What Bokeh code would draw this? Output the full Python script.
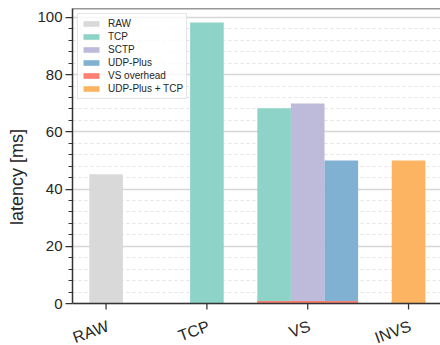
from bokeh.plotting import figure
from bokeh.models import Range1d, FixedTicker, Span, ColumnDataSource
from bokeh.core.properties import value
from bokeh.embed import file_html
from bokeh.resources import INLINE

# ---- data ----
categories = ["RAW", "TCP", "VS", "INVS"]
series_names = ["RAW", "TCP", "SCTP", "UDP-Plus", "VS overhead", "UDP-Plus + TCP"]
raw_latency = {"RAW": 45.2}
tcp_latency = {"TCP": 98.2, "VS": 68.2}
sctp_latency = {"VS": 69.9}
udp_plus_latency = {"VS": 50.0}
vs_overhead = {"VS": 0.9, "INVS": 0.9}
udp_plus_tcp_latency = {"INVS": 50.0}
y_ticks = [0, 20, 40, 60, 80, 100]

colors = {
    "RAW": "#d9d9d9",
    "TCP": "#8dd3c7",
    "SCTP": "#bebada",
    "UDP-Plus": "#80b1d3",
    "VS overhead": "#fb8072",
    "UDP-Plus + TCP": "#fdb462",
}
values = {
    "RAW": raw_latency,
    "TCP": tcp_latency,
    "SCTP": sctp_latency,
    "UDP-Plus": udp_plus_latency,
    "VS overhead": vs_overhead,
    "UDP-Plus + TCP": udp_plus_tcp_latency,
}

BAR_W = 1 / 3
FONT = "Liberation Sans"
AXIS_COLOR = "#333333"
TEXT_COLOR = "#262626"

# geometry
W, H = 440, 345
TOP_PX, LEFT_PX = 8, 72
BOTTOM_MARGIN_PX = 42          # space below the x axis line for category labels
Y_TOP = 103.1
PLOT_PX = H - TOP_PX - BOTTOM_MARGIN_PX
PX = Y_TOP / PLOT_PX            # data units per pixel
Y_BOTTOM = -BOTTOM_MARGIN_PX * PX

slots = {c: [s for s in series_names if s != "VS overhead" and c in values[s]] for c in categories}

p = figure(width=W, height=H, output_backend="svg", toolbar_location=None,
           x_range=Range1d(-0.333, 3.317), y_range=Range1d(Y_BOTTOM, Y_TOP),
           min_border_left=LEFT_PX, min_border_right=0, min_border_top=TOP_PX, min_border_bottom=0)
p.outline_line_color = None
p.background_fill_color = "white"
p.border_fill_color = "white"

for s in series_names:
    xs, ws, tops = [], [], []
    for c, v in values[s].items():
        ci = categories.index(c)
        n = len(slots[c])
        if s == "VS overhead":
            xs.append(ci)
            ws.append(n * BAR_W)
        else:
            i = slots[c].index(s)
            xs.append(ci + (i - (n - 1) / 2) * BAR_W)
            ws.append(BAR_W)
        tops.append(v)
    src = ColumnDataSource(dict(x=xs, w=ws, top=tops))
    p.vbar(x="x", width="w", top="top", bottom=0, source=src,
           fill_color=colors[s], line_color=None, legend_label=s)

# x axis drawn by hand (so the category labels sit inside the canvas)
p.xaxis.visible = False
p.xgrid.grid_line_color = None
cat_x = list(range(len(categories)))
p.segment(x0=cat_x, y0=[0] * len(cat_x), x1=cat_x, y1=[-6 * PX] * len(cat_x),
          line_color=AXIS_COLOR, line_width=1.25)
p.text(x=[i - 0.01 for i in cat_x], y=[-14 * PX] * len(cat_x), text=categories,
       angle=0.35, text_align="right", text_baseline="top",
       text_font=value(FONT), text_font_size="16px", text_color=TEXT_COLOR)
p.add_layout(Span(location=0, dimension="width", line_color=AXIS_COLOR, line_width=1.5))

# y axis
minor = [v for v in range(0, 101, 4) if v not in y_ticks]
p.yaxis.ticker = FixedTicker(ticks=y_ticks, minor_ticks=minor)
p.yaxis.bounds = (0, Y_TOP)
p.yaxis.major_tick_out = 7
p.yaxis.major_tick_in = 0
p.yaxis.minor_tick_out = 4
p.yaxis.minor_tick_in = 0
p.yaxis.axis_label = "latency [ms]"
p.yaxis.axis_label_text_font_size = "18px"
p.yaxis.axis_label_text_font_style = "normal"
p.yaxis.axis_label_text_font = FONT
p.yaxis.axis_label_text_color = TEXT_COLOR
p.yaxis.axis_label_standoff = 7
p.yaxis.axis_line_color = AXIS_COLOR
p.yaxis.axis_line_width = 1.5
p.yaxis.major_tick_line_color = AXIS_COLOR
p.yaxis.major_tick_line_width = 1.25
p.yaxis.minor_tick_line_color = AXIS_COLOR
p.yaxis.minor_tick_line_width = 1
p.yaxis.major_label_text_font = FONT
p.yaxis.major_label_text_font_size = "15px"
p.yaxis.major_label_text_color = TEXT_COLOR
p.yaxis.major_label_standoff = 3

p.ygrid.grid_line_color = "#d6d6d6"
p.ygrid.grid_line_width = 1.5
p.ygrid.minor_grid_line_color = "#e3e3e3"
p.ygrid.minor_grid_line_dash = "3 3"
p.ygrid.minor_grid_line_width = 1

# top spine
p.add_layout(Span(location=Y_TOP, dimension="width", line_color=AXIS_COLOR, line_width=1.5))

# legend
lg = p.legend[0]
lg.location = "top_left"
lg.margin = 5
lg.padding = 3
lg.spacing = 0
lg.label_text_font = FONT
lg.label_text_font_size = "10px"
lg.label_text_color = TEXT_COLOR
lg.label_height = 13
lg.glyph_height = 7
lg.glyph_width = 20
lg.label_standoff = 7
lg.border_line_color = "#cccccc"
lg.border_line_width = 1
lg.background_fill_alpha = 0.8

open("out.html", "w").write(file_html(p, INLINE))
